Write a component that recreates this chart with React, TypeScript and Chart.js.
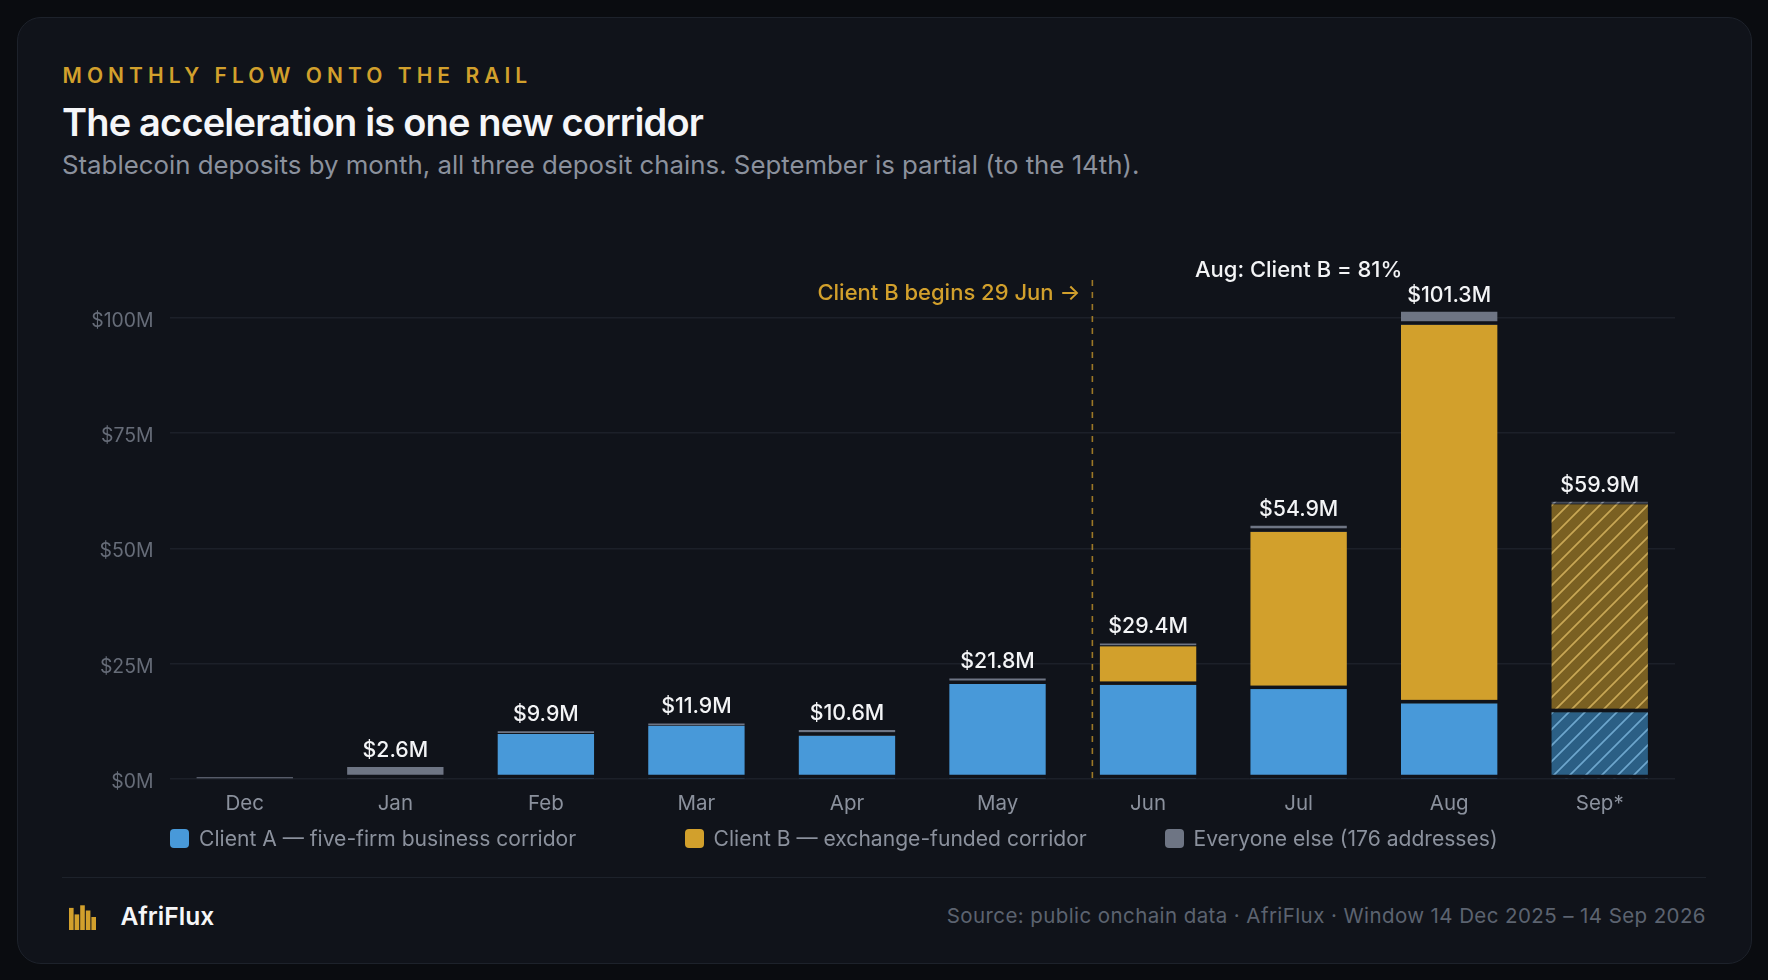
import React, { useEffect, useRef } from "react";
import { Chart, registerables } from "chart.js";

Chart.register(...registerables);

const months = ["Dec", "Jan", "Feb", "Mar", "Apr", "May", "Jun", "Jul", "Aug", "Sep*"];
const clientA = [0, 0, 9.76, 11.56, 9.4, 20.6, 20.4, 19.5, 16.4, 14.5];
const clientB = [0, 0, 0, 0, 0, 0, 8.4, 34.1, 82.1, 45.1];
const others = [0.39, 2.6, 0.6, 0.5, 1.2, 1.2, 0.6, 1.3, 2.8, 0.5];
const totalLabels = ["", "$2.6M", "$9.9M", "$11.9M", "$10.6M", "$21.8M", "$29.4M", "$54.9M", "$101.3M", "$59.9M"];
const seriesNames = [
  "Client A — five-firm business corridor",
  "Client B — exchange-funded corridor",
  "Everyone else (176 addresses)",
];
const yTicks = [0, 25, 50, 75, 100];
const yMax = 108.2;
const startMarkerValue = 5.63;
const logoBars = [17, 12, 19, 15, 10];

const FONT = "Inter, sans-serif";
const CARD = "#10131a";
const BLUE = "#4899d9";
const GOLD = "#d2a02c";
const GREY = "#6e7584";

function hatch(bg: string, line: string): CanvasPattern {
  const size = 16;
  const c = document.createElement("canvas");
  c.width = size;
  c.height = size;
  const g = c.getContext("2d")!;
  g.fillStyle = bg;
  g.fillRect(0, 0, size, size);
  g.strokeStyle = line;
  g.lineWidth = 1.7;
  g.beginPath();
  g.moveTo(-2, size + 2);
  g.lineTo(size + 2, -2);
  g.moveTo(-2, 2);
  g.lineTo(2, -2);
  g.moveTo(size - 2, size + 2);
  g.lineTo(size + 2, size - 2);
  g.stroke();
  return g.createPattern(c, "repeat")!;
}

const overlayPlugin = {
  id: "overlay",
  afterDatasetsDraw(chart: any) {
    const { ctx, chartArea, scales } = chart;
    // separation under each segment
    ctx.save();
    ctx.fillStyle = CARD;
    chart.data.datasets.forEach((_: any, di: number) => {
      chart.getDatasetMeta(di).data.forEach((bar: any) => {
        const p = bar.getProps(["x", "y", "base", "width"], true);
        const h = p.base - p.y;
        const gap = Math.min(3.5, h - 1.8);
        if (gap > 0) ctx.fillRect(p.x - p.width / 2 - 1, p.base - gap, p.width + 2, gap);
      });
    });
    ctx.restore();

    // totals above the stacks
    ctx.save();
    ctx.font = `500 21.3px ${FONT}`;
    ctx.fillStyle = "#f3f4f6";
    ctx.textAlign = "center";
    ctx.textBaseline = "middle";
    const top = chart.getDatasetMeta(2).data;
    totalLabels.forEach((label, i) => {
      if (!label) return;
      const p = top[i].getProps(["x", "y"], true);
      ctx.fillText(label, p.x, p.y - 16.5);
    });
    ctx.restore();

    // start marker
    const mx = scales.x.getPixelForValue(startMarkerValue);
    ctx.save();
    ctx.strokeStyle = "rgba(210,160,44,0.72)";
    ctx.lineWidth = 1.6;
    ctx.setLineDash([6, 6]);
    ctx.beginPath();
    ctx.moveTo(mx, chartArea.top);
    ctx.lineTo(mx, chartArea.bottom);
    ctx.stroke();
    ctx.restore();

    ctx.save();
    ctx.textBaseline = "middle";
    ctx.font = `500 22px ${FONT}`;
    ctx.fillStyle = GOLD;
    ctx.textAlign = "right";
    ctx.fillText("Client B begins 29 Jun →", mx - 12, chartArea.top + 13);
    ctx.fillStyle = "#f3f4f6";
    ctx.textAlign = "center";
    ctx.fillText("Aug: Client B = 81%", scales.x.getPixelForValue(7), chartArea.top - 10);
    ctx.restore();
  },
};

function App() {
  const ref = useRef<HTMLCanvasElement | null>(null);

  useEffect(() => {
    const canvas = ref.current!;
    const last = months.length - 1;
    const colours = (solid: string, pattern: CanvasPattern) =>
      months.map((_, i) => (i === last ? pattern : solid));
    const chart = new Chart(canvas, {
      type: "bar",
      data: {
        labels: months,
        datasets: [
          { label: seriesNames[0], data: clientA, backgroundColor: colours(BLUE, hatch("#2b5f85", "#6da6cd")) },
          { label: seriesNames[1], data: clientB, backgroundColor: colours(GOLD, hatch("#7a6022", "#c8a755")) },
          { label: seriesNames[2], data: others, backgroundColor: colours(GREY, hatch("#444a56", "#8a909c")) },
        ],
      },
      options: {
        responsive: false,
        animation: false,
        layout: { padding: { top: 80, right: 76, bottom: 0, left: 0 } },
        datasets: { bar: { barPercentage: 0.8, categoryPercentage: 0.8, borderWidth: 0 } },
        plugins: { legend: { display: false }, tooltip: { enabled: false }, title: { display: false } },
        scales: {
          x: {
            stacked: true,
            grid: { display: false },
            border: { display: false },
            ticks: { color: "#8b919d", font: { family: FONT, size: 20.5 }, padding: 5, maxRotation: 0 },
            afterFit(s: any) {
              s.height = 61;
            },
          },
          y: {
            stacked: true,
            min: 0,
            max: yMax,
            grid: { color: "#1c2029", lineWidth: 1.5, drawTicks: false },
            border: { display: false },
            afterBuildTicks(s: any) {
              s.ticks = yTicks.map((value) => ({ value }));
            },
            ticks: {
              color: "#666c78",
              font: { family: FONT, size: 19.4 },
              padding: 16,
              labelOffset: 3.2,
              callback: (v: any) => `$${v}M`,
            },
            afterFit(s: any) {
              s.width = 152.5;
            },
          },
        },
      },
      plugins: [overlayPlugin],
    } as any);
    return () => chart.destroy();
  }, []);

  const text = (left: number, center: number, size: number, color: string, extra: any = {}) => ({
    position: "absolute" as const,
    left,
    top: center - 20,
    height: 40,
    lineHeight: "40px",
    fontSize: size,
    color,
    whiteSpace: "nowrap" as const,
    ...extra,
  });

  const legendX = [170, 684.5, 1164.5];
  const legendColours = [BLUE, GOLD, GREY];

  return (
    <div style={{ position: "relative", width: 1768, height: 980, overflow: "hidden", background: "#0a0c10", fontFamily: FONT }}>
      <style>{"html,body{margin:0;padding:0;background:#0a0c10;overflow:hidden}"}</style>
      <div
        style={{
          position: "absolute",
          left: 16.5,
          top: 16.5,
          width: 1735,
          height: 947,
          boxSizing: "border-box",
          background: CARD,
          border: "1.5px solid #1d222b",
          borderRadius: 24,
        }}
      />
      <div style={text(62.5, 75.5, 21, GOLD, { fontWeight: 600, letterSpacing: "5.04px" })}>MONTHLY FLOW ONTO THE RAIL</div>
      <div style={text(62, 121.5, 38, "#f5f6f8", { fontWeight: 600, letterSpacing: "-0.0217em" })}>The acceleration is one new corridor</div>
      <div style={text(62, 165, 25.8, "#8b919d", { fontWeight: 400 })}>
        Stablecoin deposits by month, all three deposit chains. September is partial (to the 14th).
      </div>

      <canvas ref={ref} width={1734} height={640} style={{ position: "absolute", left: 17, top: 200, width: 1734, height: 640 }} />

      {seriesNames.map((name, i) => (
        <React.Fragment key={name}>
          <div
            style={{
              position: "absolute",
              left: legendX[i],
              top: 829,
              width: 19,
              height: 19,
              borderRadius: 4,
              background: legendColours[i],
            }}
          />
          <div style={text(legendX[i] + 29, 838.7, 21.1, "#8b919d")}>{name}</div>
        </React.Fragment>
      ))}

      <div style={{ position: "absolute", left: 62, width: 1644, top: 876.5, height: 1.5, background: "#1d222b" }} />

      <svg style={{ position: "absolute", left: 69, top: 905 }} width={28} height={26}>
        {logoBars.map((h, i) => (
          <rect key={i} x={i * 5.6} y={25 - h * 1.3} width={4.6} height={h * 1.3} fill={GOLD} />
        ))}
      </svg>
      <div style={text(120.5, 915.7, 24.6, "#f5f6f8", { fontWeight: 600 })}>AfriFlux</div>
      <div style={text(0, 915.7, 20.5, "#5c6370", { left: "auto", right: 62, letterSpacing: "0.02em" })}>
        Source: public onchain data · AfriFlux · Window 14 Dec 2025 – 14 Sep 2026
      </div>
    </div>
  );
}

export default App;
